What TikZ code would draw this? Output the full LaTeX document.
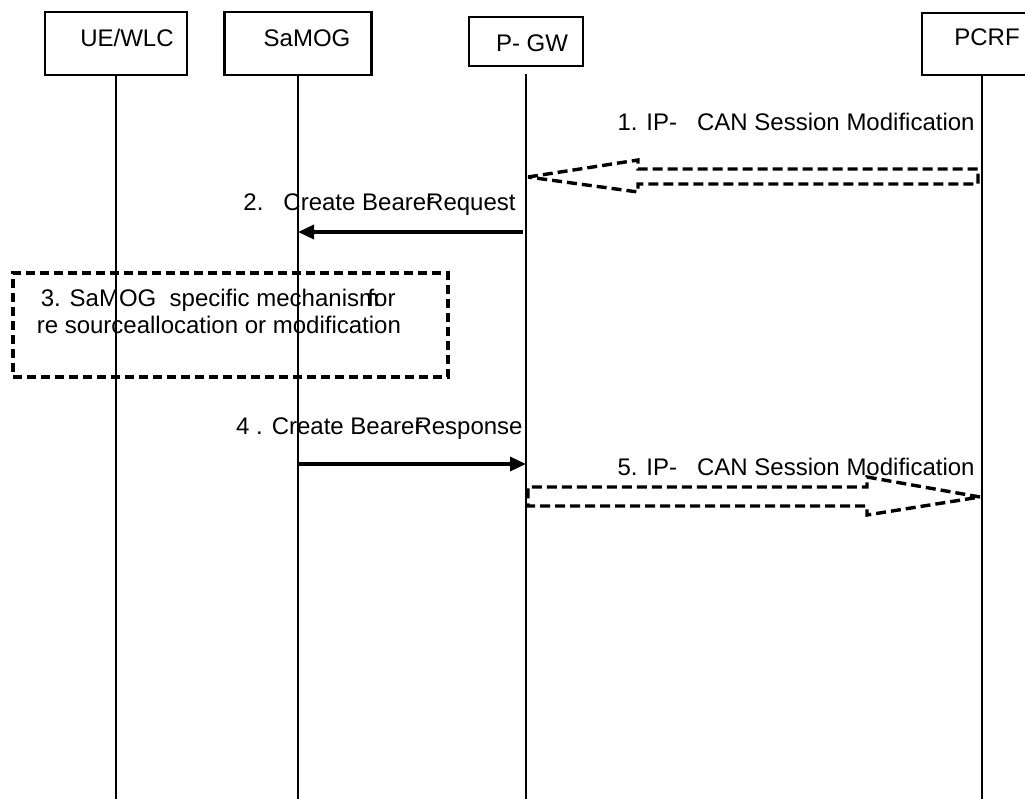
\documentclass[tikz,border=0pt]{standalone}
\usepackage{fontspec}
\setmainfont{Liberation Sans}
\usepackage{tikz}
\usetikzlibrary{calc}
\usetikzlibrary{positioning}
\usetikzlibrary{arrows.meta}

\begin{document}
\begin{tikzpicture}[x=0.5pt,y=-0.5pt,
	font=\fontsize{12}{13.5}\selectfont,
	entity/.style={draw,line width=1.1pt},
	lifeline/.style={line width=1pt},
	msgtext/.style={inner sep=0pt,anchor=east},
	msgarrow/.style={line width=1.7pt,-{Triangle[length=8pt,width=7pt]}},
	blockarrow/.style={line width=1.7pt,dash pattern=on 5pt off 2.5pt},
	stepbox/.style={draw,line width=1.6pt,dash pattern=on 4.5pt off 2.5pt}]
	
	\useasboundingbox (0,0) rectangle (1025,799);
	
	% entities
	\node[entity,minimum width=71pt,minimum height=31.5pt,label={[shift={(11,-5.5)}]center:UE/WLC}] (ue) at (116,43.5) {};
	\node[entity,minimum width=73.5pt,minimum height=31.5pt,label={[shift={(9,-5.5)}]center:SaMOG}] (samog) at (298,43.5) {};
	\node[entity,minimum width=57pt,minimum height=24.5pt,label={[shift={(6,1.5)}]center:P- GW}] (pgw) at (526,41.5) {};
	\node[entity,minimum width=60pt,minimum height=31pt,label={[shift={(5,-7)}]center:PCRF}] (pcrf) at (982,44) {};
	
	% lifelines
	\coordinate (bottom) at (0,799);
	\draw[lifeline] (ue.south) -- (ue.south |- bottom);
	\draw[lifeline] (samog.south) -- (samog.south |- bottom);
	\draw[lifeline] ($(pgw.south)+(0,7)$) -- (pgw.south |- bottom);
	\draw[lifeline] (pcrf.south) -- (pcrf.south |- bottom);
	
	% 1. ip-can session modification
	\coordinate (m1) at (0,177);
	\coordinate (tip1) at ($(pgw |- m1)+(2,0)$);
	\coordinate (tail1) at ($(pcrf |- m1)+(-4,0)$);
	\draw[blockarrow] (tip1) -- ++(110,-17) -- ++(0,9) -- ($(tail1)+(0,-8)$) -- ++(0,15) -- ($(tip1)+(110,7)$) -- ++(0,8) -- cycle;
	\node[msgtext] (t1) at (975,122) {1. IP-\ \ \ CAN Session Modification};
	
	% 2. create bearer request
	\coordinate (m2) at (0,232);
	\draw[msgarrow] ($(pgw |- m2)+(-3,0)$) -- (samog |- m2);
	\node[msgtext] (t2) at (516,205) {2.\ \ \ Create Beare\rlap{r}Request};
	
	% 3. samog mechanism
	\node[stepbox,minimum width=217.5pt,minimum height=52pt] (mech) at (230.5,325) {};
	\node[inner sep=0pt,anchor=west,align=left] (mechtext) at ($(mech.west)+(25,-13.5)$) {\hspace*{2pt}3. SaMOG\ \ specific mechanis\rlap{m}\hspace{0.35em}for\\re sourceallocation or modification};
	
	% 4. create bearer response
	\coordinate (m4) at (0,464);
	\draw[msgarrow] (samog |- m4) -- (pgw |- m4);
	\node[msgtext] (t4) at (523,429) {4 . Create Beare\rlap{r}Response};
	
	% 5. ip-can session modification
	\coordinate (m5) at (0,497);
	\coordinate (tail5) at ($(pgw |- m5)+(2,0)$);
	\coordinate (tip5) at ($(pcrf |- m5)+(-2,0)$);
	\draw[blockarrow] (tip5) -- ++(-113,-20) -- ++(0,10) -- ($(tail5)+(0,-10)$) -- ++(0,19) -- ($(tip5)+(-113,9)$) -- ++(0,9) -- cycle;
	\node[msgtext] (t5) at (975,467) {5. IP-\ \ \ CAN Session Modification};
	
\end{tikzpicture}
\end{document}
